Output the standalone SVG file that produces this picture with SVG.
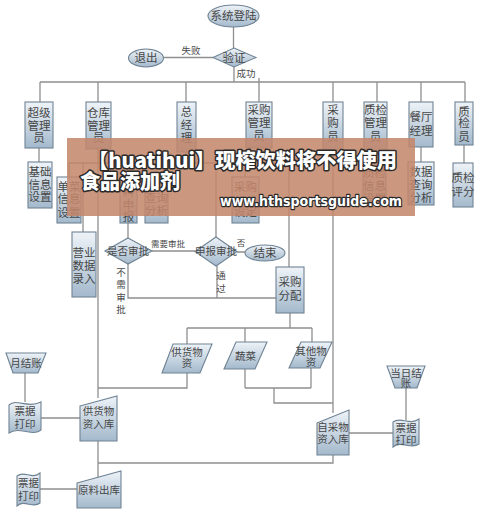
<svg xmlns="http://www.w3.org/2000/svg" width="482" height="513" viewBox="0 0 482 513">
<defs>
<linearGradient id="g" x1="0" y1="0" x2="0" y2="1"><stop offset="0" stop-color="#eef3f8"/><stop offset="1" stop-color="#a3b9cc"/></linearGradient>
<style>
.n{fill:url(#g);stroke:#6f8394;stroke-width:1.1}
.t{font-family:"Noto Sans CJK SC",sans-serif;font-size:11.5px;fill:#464646;text-anchor:middle}
.s{font-size:10.5px}
.c{fill:none;stroke:#8f8f8f;stroke-width:1.3}
.l{font-family:"Noto Sans CJK SC",sans-serif;font-size:9.5px;fill:#4a4a4a;text-anchor:middle}
.w{font-family:"Noto Sans CJK SC",sans-serif;font-weight:900;fill:#fff;stroke:#2a2a2a;stroke-width:3;paint-order:stroke;stroke-linejoin:round}
</style>
</defs>
<rect width="482" height="513" fill="#fff"/>
<g id="connectors">
<path class="c" d="M233.5,27V48M213,57.5H163.5M234,67V82M40,82H465M40,82V102M98,82V102M186,82V102M259,78V102M333,82V102M377,82V102M421,82V102M465,82V102"/>
<path class="c" d="M39,148V162M421,147V162M464,145V163M375,148V163M333,150V413"/>
<path class="c" d="M259,148V160M245,160H289M245,160V177M289,160V267"/>
<path class="c" d="M186,152V163M156,163H216M156,163V189M216,163V237"/>
<path class="c" d="M98,149V398M69,163H128M69,163V177M83,163V232M128,163V180M128,223V238"/>
<path class="c" d="M152,251H195M237,252H245M128,264V298H276M217,266V298"/>
<path class="c" d="M290,313V328M187,328H312M187,328V344M245,328V342M312,328V342"/>
<path class="c" d="M187,373V388H98M245,369V388M311,368V388M245,388H311M274,388V403H333"/>
<path class="c" d="M25,373V402M41,418H80M98,441V477M333,455V463H98M40,489H77M406,388V420M349,433H393"/>
</g>
<g id="n_login"><ellipse class="n" cx="233.5" cy="16" rx="25.5" ry="11"/><text class="t" x="233.5" y="20">系统登陆</text></g>
<g id="n_verify"><polygon class="n" points="234,48 256,57.5 234,67 213,57.5"/><text class="t" x="234" y="62">验证</text></g>
<g id="n_exit"><ellipse class="n" cx="146" cy="58" rx="17.5" ry="9"/><text class="t" x="146" y="62">退出</text></g>
<text class="l" x="191" y="54">失败</text>
<text class="l" x="246" y="77">成功</text>
<g id="n_super"><rect class="n" x="25" y="102" width="28" height="46"/><text class="t" x="39"><tspan x="39" y="117">超级</tspan><tspan x="39" y="130">管理</tspan><tspan x="39" y="142">员</tspan></text></g>
<g id="n_store"><rect class="n" x="86" y="102" width="25" height="47"/><text class="t" x="98.5"><tspan x="98.5" y="117">仓库</tspan><tspan x="98.5" y="130">管理</tspan><tspan x="98.5" y="142">员</tspan></text></g>
<g id="n_gm"><rect class="n" x="177" y="102" width="19" height="50"/><text class="t" x="186.5"><tspan x="186.5" y="116">总</tspan><tspan x="186.5" y="129">经</tspan><tspan x="186.5" y="142">理</tspan></text></g>
<g id="n_pmgr"><rect class="n" x="246" y="102" width="26" height="46"/><text class="t" x="259"><tspan x="259" y="114">采购</tspan><tspan x="259" y="127">管理</tspan><tspan x="259" y="140">员</tspan></text></g>
<g id="n_buyer"><rect class="n" x="323" y="102" width="20" height="48"/><text class="t" x="333"><tspan x="333" y="114">采</tspan><tspan x="333" y="127">购</tspan><tspan x="333" y="141">员</tspan></text></g>
<g id="n_qmgr"><rect class="n" x="364" y="102" width="23" height="48"/><text class="t" x="375.5"><tspan x="375.5" y="114">质检</tspan><tspan x="375.5" y="127">管理</tspan><tspan x="375.5" y="141">员</tspan></text></g>
<g id="n_rest"><rect class="n" x="409" y="102" width="24" height="45"/><text class="t" x="421"><tspan x="421" y="121">餐厅</tspan><tspan x="421" y="135">经理</tspan></text></g>
<g id="n_qc"><rect class="n" x="455" y="102" width="18" height="43"/><text class="t" x="464"><tspan x="464" y="116">质</tspan><tspan x="464" y="127">检</tspan><tspan x="464" y="141">员</tspan></text></g>
<g id="n_basic"><rect class="n" x="28" y="162" width="24" height="46"/><text class="t" x="40"><tspan x="40" y="176">基础</tspan><tspan x="40" y="189">信息</tspan><tspan x="40" y="201">设置</tspan></text></g>
<g id="n_menu"><rect class="n" x="57" y="177" width="24" height="46"/><text class="t" x="69"><tspan x="69" y="191">单菜</tspan><tspan x="69" y="203">信息</tspan><tspan x="69" y="217">设置</tspan></text></g>
<g id="n_sales"><rect class="n" x="72" y="232" width="24" height="65"/><text class="t" x="84"><tspan x="84" y="257">营业</tspan><tspan x="84" y="270">数据</tspan><tspan x="84" y="283">录入</tspan></text></g>
<g id="n_apply"><rect class="n" x="120" y="180" width="17" height="43"/><text class="t" x="128.5"><tspan x="128.5" y="196">料</tspan><tspan x="128.5" y="209">申</tspan><tspan x="128.5" y="221">报</tspan></text></g>
<g id="n_query"><rect class="n" x="145" y="189" width="23" height="34"/><text class="t" x="156.5"><tspan x="156.5" y="202">查询</tspan><tspan x="156.5" y="215">分析</tspan></text></g>
<g id="n_pset"><rect class="n" x="232" y="177" width="27" height="46"/><text class="t" x="245.5"><tspan x="245.5" y="191">采购</tspan><tspan x="245.5" y="216">设定</tspan></text></g>
<g id="n_qset"><rect class="n" x="363" y="163" width="23" height="44"/><text class="t" x="374.5"><tspan x="374.5" y="177">质检</tspan><tspan x="374.5" y="190">信息</tspan><tspan x="374.5" y="203">设置</tspan></text></g>
<g id="n_data"><rect class="n" x="408" y="162" width="26" height="43"/><text class="t" x="421"><tspan x="421" y="176">数据</tspan><tspan x="421" y="189">查询</tspan><tspan x="421" y="202">分析</tspan></text></g>
<g id="n_score"><rect class="n" x="453" y="163" width="20" height="44"/><text class="t" x="463"><tspan x="463" y="182">质检</tspan><tspan x="463" y="196">评分</tspan></text></g>
<g id="n_need"><polygon class="n" points="128,238 152,251 128,264 105,251"/><text class="t s" x="128" y="255">是否审批</text></g>
<g id="n_approve"><polygon class="n" points="216,237 237,251.5 216,266 195,251.5"/><text class="t s" x="216" y="255">申报审批</text></g>
<g id="n_end"><ellipse class="n" cx="265" cy="253" rx="20" ry="8"/><text class="t" x="265" y="257">结束</text></g>
<text class="l" x="168" y="247" style="font-size:8.5px">需要审批</text>
<text class="l" x="241" y="246" style="font-size:8.5px">否</text>
<text class="l"><tspan x="121" y="276">不</tspan><tspan x="121" y="288">需</tspan><tspan x="121" y="301">审</tspan><tspan x="121" y="313">批</tspan></text>
<text class="l"><tspan x="221" y="279">通</tspan><tspan x="221" y="292">过</tspan></text>
<g id="n_alloc"><rect class="n" x="276" y="267" width="28" height="46"/><text class="t" x="290"><tspan x="290" y="286">采购</tspan><tspan x="290" y="300">分配</tspan></text></g>
<g id="n_supply"><polygon class="n" points="173,344 212,344 200,373 162,373"/><text class="t s" x="187"><tspan x="187" y="356">供货物</tspan><tspan x="187" y="367">资</tspan></text></g>
<g id="n_veg"><polygon class="n" points="236,342 267,342 255,369 224,369"/><text class="t s" x="245.5" y="360">蔬菜</text></g>
<g id="n_other"><polygon class="n" points="301,342 332,342 320,368 289,368"/><text class="t s" x="311"><tspan x="311" y="355">其他物</tspan><tspan x="311" y="366">资</tspan></text></g>
<g id="n_month"><polygon class="n" points="6,353 46,353 38,373 13,373"/><text class="t s" x="26" y="367">月结账</text></g>
<g id="n_print1"><path class="n" d="M9,405C17,398 27,409 41,402V430C33,437 19,426 9,433Z"/><text class="t s" x="25"><tspan x="25" y="415">票据</tspan><tspan x="25" y="428">打印</tspan></text></g>
<g id="n_supin"><polygon class="n" points="80,406 117,396 117,441 80,441"/><text class="t s" x="98.5"><tspan x="98.5" y="415">供货物</tspan><tspan x="98.5" y="428">资入库</tspan></text></g>
<g id="n_day"><polygon class="n" points="387,366 425,366 417,388 395,388"/><text class="t s" x="406"><tspan x="406" y="377">当日结</tspan><tspan x="406" y="387">账</tspan></text></g>
<g id="n_print2"><path class="n" d="M393,422C401,416 409,426 419,419V444C411,450 401,440 393,447Z"/><text class="t s" x="406"><tspan x="406" y="432">票据</tspan><tspan x="406" y="444">打印</tspan></text></g>
<g id="n_selfin"><polygon class="n" points="317,423 349,410 349,455 317,455"/><text class="t s" x="333"><tspan x="333" y="431">自采物</tspan><tspan x="333" y="443">资入库</tspan></text></g>
<g id="n_out"><polygon class="n" points="77,483 121,471 121,508 77,508"/><text class="t s" x="99" y="494">原料出库</text></g>
<g id="n_print3"><path class="n" d="M17,476C24,470 32,480 40,473V503C33,509 24,499 17,506Z"/><text class="t s" x="28.5"><tspan x="28.5" y="487">票据</tspan><tspan x="28.5" y="500">打印</tspan></text></g>
<g id="watermark">
<rect x="67" y="138" width="348" height="78" fill="#c4866a" fill-opacity="0.86"/>
<text class="w" x="88" y="168" font-size="20" textLength="309" lengthAdjust="spacingAndGlyphs">【huatihui】现榨饮料将不得使用</text>
<text class="w" x="80" y="189" font-size="20">食品添加剂</text>
<text class="w" x="220" y="206" font-size="14" style="font-family:'DejaVu Sans',sans-serif;stroke-width:2.5" textLength="182" lengthAdjust="spacingAndGlyphs">www.hthsportsguide.com</text>
</g>
</svg>
